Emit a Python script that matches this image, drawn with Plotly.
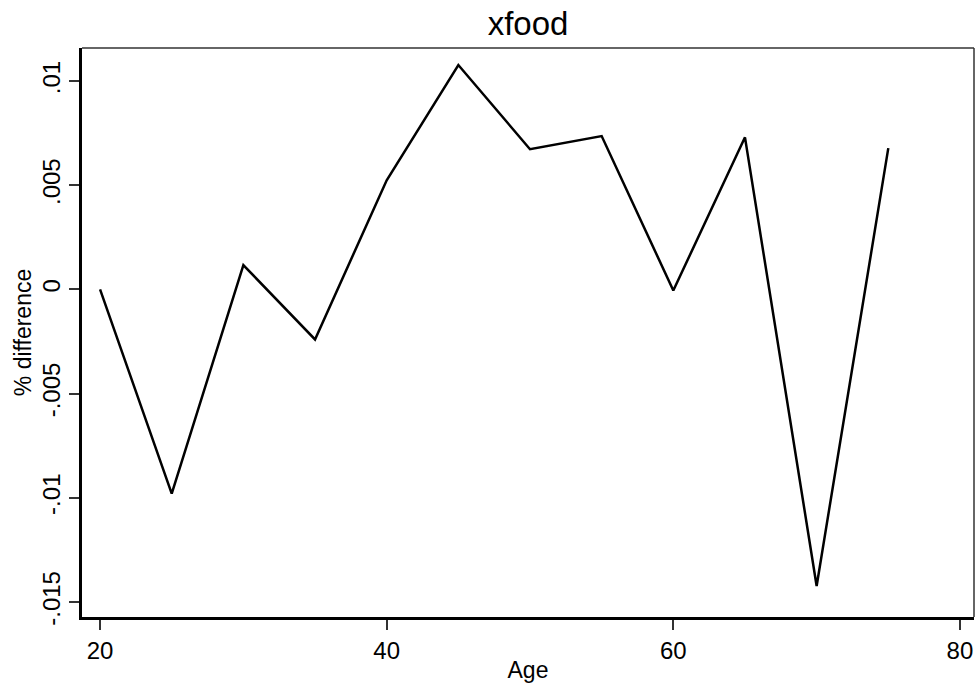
import plotly.graph_objects as go

age = [20, 25, 30, 35, 40, 45, 50, 55, 60, 65, 70, 75]
pct_diff = [0.0, -0.0098, 0.00117, -0.0024, 0.00524, 0.01077, 0.00673, 0.00736,
            -0.00005, 0.0073, -0.01423, 0.00678]
x_ticks = [20, 40, 60, 80]
y_ticks = [0.01, 0.005, 0, -0.005, -0.01, -0.015]
y_tick_labels = [".01", ".005", "0", "-.005", "-.01", "-.015"]

fig = go.Figure()
fig.add_trace(go.Scatter(x=age, y=pct_diff, mode="lines",
                         line=dict(color="black", width=2.5), showlegend=False))

font = "Liberation Sans, Arial, sans-serif"
fig.update_layout(
    width=979, height=694,
    margin=dict(l=82, r=5, t=48, b=77),
    paper_bgcolor="white", plot_bgcolor="white",
    title=dict(text="xfood", xref="paper", x=0.5, xanchor="center", y=0.966, yanchor="middle",
               font=dict(family=font, size=33, color="black")),
    font=dict(family=font, color="black"),
    xaxis=dict(range=[18.74, 80.98], tickvals=x_ticks, ticks="outside", ticklen=10,
               tickcolor="#333", tickwidth=1.5, showgrid=False, zeroline=False,
               showline=True, linecolor="black", linewidth=2.5,
               tickfont=dict(size=24), title=dict(text="Age", font=dict(size=23), standoff=0)),
    yaxis=dict(range=[-0.015721, 0.011587], tickvals=y_ticks, ticktext=y_tick_labels,
               ticks="outside", ticklen=10, tickcolor="#333", tickwidth=1.5,
               tickangle=-90, showgrid=False, zeroline=False,
               showline=True, linecolor="black", linewidth=2.5,
               tickfont=dict(size=24), title=dict(text="% difference", font=dict(size=23), standoff=0)),
)
fig.add_shape(type="line", xref="paper", yref="paper", x0=0, x1=1, y0=1, y1=1,
              line=dict(color="#333", width=1.5))
fig.add_shape(type="line", xref="paper", yref="paper", x0=1, x1=1, y0=0, y1=1,
              line=dict(color="#333", width=1.5))

fig.write_html("out.html")
